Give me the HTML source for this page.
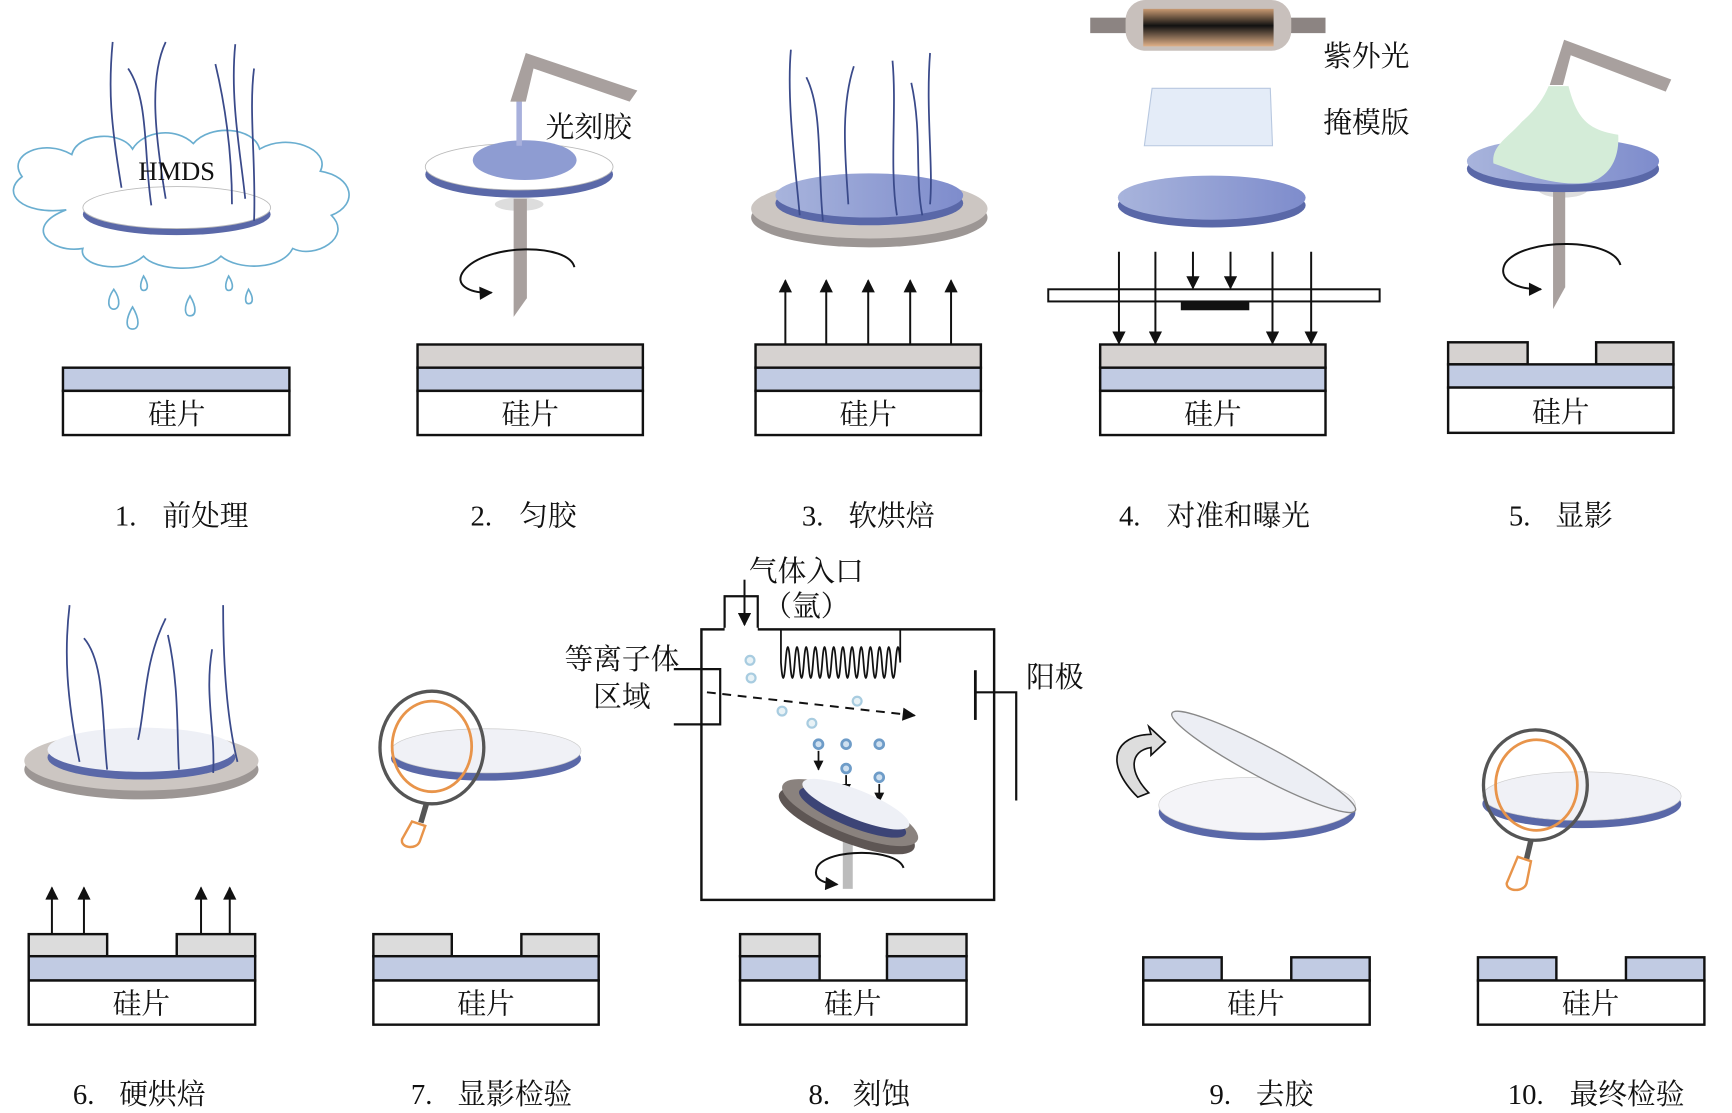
<!DOCTYPE html>
<html><head><meta charset="utf-8"><style>
html,body{margin:0;padding:0;background:#fff;}
svg{display:block}
text{font-family:"Liberation Serif","Noto Serif CJK SC","Noto Sans CJK SC",serif;fill:#111;white-space:pre}
</style></head><body>
<svg width="1732" height="1113" viewBox="0 0 1568 1008" preserveAspectRatio="none" xmlns="http://www.w3.org/2000/svg">
<defs>
<marker id="ah" viewBox="0 0 10 10" refX="9" refY="5" markerWidth="9" markerHeight="10" orient="auto-start-reverse" markerUnits="userSpaceOnUse"><path d="M0,0 L10,5 L0,10 Z" fill="#111"/></marker>
<marker id="ahb" viewBox="0 0 10 10" refX="9" refY="5" markerWidth="14" markerHeight="12" orient="auto-start-reverse" markerUnits="userSpaceOnUse"><path d="M0,0 L10,5 L0,10 Z" fill="#111"/></marker>
<linearGradient id="lamp" x1="0" y1="0" x2="0" y2="1"><stop offset="0" stop-color="#c89a72"/><stop offset="0.45" stop-color="#111"/><stop offset="1" stop-color="#e0b088"/></linearGradient>
<linearGradient id="bw" x1="0" y1="0" x2="1" y2="0"><stop offset="0" stop-color="#a8b4dc"/><stop offset="1" stop-color="#7e8ccc"/></linearGradient>
</defs>

<!-- ===== Stage 1 ===== -->
<path d="M60,190 C20,195 0,175 20,160 C5,140 40,125 65,140 C70,120 110,118 120,135 C130,118 160,115 175,130 C190,112 230,115 235,135 C260,120 300,135 290,155 C320,160 325,185 300,195 C320,215 285,235 265,225 C255,245 215,245 200,232 C185,248 140,245 130,232 C110,250 70,240 75,225 C45,230 20,205 60,190 Z" fill="none" stroke="#6aaed0" stroke-width="1.5"/>
<ellipse cx="160" cy="194" rx="85" ry="19" fill="#5a68a8"/>
<ellipse cx="160" cy="188" rx="85" ry="19" fill="#fff" stroke="#bbb" stroke-width="0.8"/>
<g fill="none" stroke="#3a4a8a" stroke-width="1.6">
<path d="M102,38 C98,80 100,110 110,170"/><path d="M116,62 C135,90 130,140 137,186"/><path d="M150,38 C135,70 140,120 150,180"/><path d="M213,40 C208,90 218,140 222,180"/><path d="M195,58 C205,100 210,140 210,185"/><path d="M230,62 C225,100 232,150 230,200"/>
</g>
<text x="160" y="163" font-size="24" text-anchor="middle">HMDS</text>
<g fill="none" stroke="#6aaed0" stroke-width="1.5">
<path d="M103,262 C96,272 98,280 103,280 C108,280 110,272 103,262Z"/><path d="M130,250 C126,258 127,263 130,263 C134,263 135,258 130,250Z"/><path d="M120,278 C113,290 114,298 120,298 C126,298 127,290 120,278Z"/><path d="M172,268 C166,278 167,286 172,286 C178,286 178,278 172,268Z"/><path d="M207,250 C203,258 204,263 207,263 C211,263 212,258 207,250Z"/><path d="M225,262 C221,270 222,275 225,275 C229,275 230,270 225,262Z"/>
</g>

<!-- stacks -->
<g stroke="#111" stroke-width="2.2">
<rect x="57" y="333" width="205" height="21" fill="#c1cbe3"/><rect x="57" y="354" width="205" height="40" fill="#fff"/>
<rect x="378" y="312" width="204" height="21" fill="#d6d2d0"/><rect x="378" y="333" width="204" height="21" fill="#c1cbe3"/><rect x="378" y="354" width="204" height="40" fill="#fff"/>
<rect x="684" y="312" width="204" height="21" fill="#d6d2d0"/><rect x="684" y="333" width="204" height="21" fill="#c1cbe3"/><rect x="684" y="354" width="204" height="40" fill="#fff"/>
<rect x="996" y="312" width="204" height="21" fill="#d6d2d0"/><rect x="996" y="333" width="204" height="21" fill="#c1cbe3"/><rect x="996" y="354" width="204" height="40" fill="#fff"/>
<rect x="1311" y="310" width="72" height="20" fill="#d6d2d0"/><rect x="1445" y="310" width="70" height="20" fill="#d6d2d0"/><rect x="1311" y="330" width="204" height="21" fill="#c1cbe3"/><rect x="1311" y="351" width="204" height="41" fill="#fff"/>
<rect x="26" y="846" width="71" height="20" fill="#dcdcdc"/><rect x="160" y="846" width="71" height="20" fill="#dcdcdc"/><rect x="26" y="866" width="205" height="22" fill="#c1cbe3"/><rect x="26" y="888" width="205" height="40" fill="#fff"/>
<rect x="338" y="846" width="71" height="20" fill="#dcdcdc"/><rect x="472" y="846" width="70" height="20" fill="#dcdcdc"/><rect x="338" y="866" width="204" height="22" fill="#c1cbe3"/><rect x="338" y="888" width="204" height="40" fill="#fff"/>
<rect x="670" y="846" width="72" height="20" fill="#dcdcdc"/><rect x="803" y="846" width="72" height="20" fill="#dcdcdc"/><rect x="670" y="866" width="72" height="22" fill="#c1cbe3"/><rect x="803" y="866" width="72" height="22" fill="#c1cbe3"/><rect x="670" y="888" width="205" height="40" fill="#fff"/>
<rect x="1035" y="867" width="71" height="21" fill="#c1cbe3"/><rect x="1169" y="867" width="71" height="21" fill="#c1cbe3"/><rect x="1035" y="888" width="205" height="40" fill="#fff"/>
<rect x="1338" y="867" width="71" height="21" fill="#c1cbe3"/><rect x="1472" y="867" width="71" height="21" fill="#c1cbe3"/><rect x="1338" y="888" width="205" height="40" fill="#fff"/>
</g>
<g font-size="26" text-anchor="middle">
<text x="160" y="384">硅片</text><text x="480" y="384">硅片</text><text x="786" y="384">硅片</text><text x="1098" y="384">硅片</text><text x="1413" y="382">硅片</text>
<text x="128" y="918">硅片</text><text x="440" y="918">硅片</text><text x="772" y="918">硅片</text><text x="1137" y="918">硅片</text><text x="1440" y="918">硅片</text>
</g>
<g font-size="26">
<text x="104" y="476">1.</text><text x="147" y="476">前处理</text>
<text x="426" y="476">2.</text><text x="470" y="476">匀胶</text>
<text x="726" y="476">3.</text><text x="768" y="476">软烘焙</text>
<text x="1013" y="476">4.</text><text x="1056" y="476">对准和曝光</text>
<text x="1366" y="476">5.</text><text x="1408" y="476">显影</text>
<text x="66" y="1000">6.</text><text x="108" y="1000">硬烘焙</text>
<text x="372" y="1000">7.</text><text x="414" y="1000">显影检验</text>
<text x="732" y="1000">8.</text><text x="772" y="1000">刻蚀</text>
<text x="1095" y="1000">9.</text><text x="1137" y="1000">去胶</text>
<text x="1365" y="1000">10.</text><text x="1421" y="1000">最终检验</text>
</g>

<!-- ===== Stage 2 ===== -->
<ellipse cx="470" cy="185" rx="22" ry="6" fill="#ddd"/>
<path d="M465,180 L477,180 L477,270 L465,287 Z" fill="#a8a09e"/>
<ellipse cx="470" cy="158" rx="85" ry="21" fill="#5a68a8"/>
<ellipse cx="470" cy="151" rx="85" ry="21" fill="#fff" stroke="#bbb" stroke-width="0.8"/>
<ellipse cx="475" cy="145" rx="47" ry="18" fill="#8e9cd2"/>
<line x1="470" y1="90" x2="470" y2="132" stroke="#a8b0dc" stroke-width="5"/>
<polygon points="462,92 476,92 483,62 570,92 577,82 476,48" fill="#a8a09e"/>
<text x="533" y="124" font-size="26" text-anchor="middle">光刻胶</text>
<path d="M520,242 C515,220 440,220 420,245 C410,258 425,266 445,265" fill="none" stroke="#111" stroke-width="1.8" marker-end="url(#ahb)"/>

<!-- ===== Stage 3 ===== -->
<ellipse cx="787" cy="197" rx="107" ry="27" fill="#9c9694"/>
<ellipse cx="787" cy="189" rx="107" ry="27" fill="#ccc6c2"/>
<ellipse cx="787" cy="184" rx="85" ry="20" fill="#5a68a8"/>
<ellipse cx="787" cy="177" rx="85" ry="20" fill="url(#bw)"/>
<g fill="none" stroke="#3a4a8a" stroke-width="1.6">
<path d="M716,45 C712,90 720,150 724,195"/><path d="M730,70 C745,100 740,150 745,200"/><path d="M773,60 C760,100 766,150 768,185"/><path d="M808,55 C812,100 805,150 812,195"/><path d="M825,75 C835,120 828,160 835,195"/><path d="M842,48 C838,100 845,150 842,185"/>
</g>
<g stroke="#111" stroke-width="1.8" marker-end="url(#ahb)">
<line x1="711" y1="312" x2="711" y2="254"/><line x1="748" y1="312" x2="748" y2="254"/><line x1="786" y1="312" x2="786" y2="254"/><line x1="824" y1="312" x2="824" y2="254"/><line x1="861" y1="312" x2="861" y2="254"/>
</g>

<!-- ===== Stage 4 ===== -->
<rect x="987" y="16" width="213" height="14" fill="#8c8482"/>
<rect x="1019" y="0" width="150" height="46" rx="18" fill="#c8c0bc"/>
<rect x="1035" y="8" width="118" height="34" fill="url(#lamp)"/>
<text x="1237" y="60" font-size="26" text-anchor="middle">紫外光</text>
<text x="1237" y="120" font-size="26" text-anchor="middle">掩模版</text>
<polygon points="1043,80 1150,80 1152,132 1036,132" fill="#e4ecf8" stroke="#b8c8e0" stroke-width="1"/>
<ellipse cx="1097" cy="186" rx="85" ry="20" fill="#5a68a8"/>
<ellipse cx="1097" cy="179" rx="85" ry="20" fill="url(#bw)"/>
<rect x="949" y="262" width="300" height="11" fill="#fff" stroke="#111" stroke-width="1.8"/>
<rect x="1069" y="273" width="62" height="8" fill="#111"/>
<g stroke="#111" stroke-width="1.8" marker-end="url(#ahb)">
<line x1="1013" y1="228" x2="1013" y2="311"/><line x1="1046" y1="228" x2="1046" y2="311"/><line x1="1080" y1="228" x2="1080" y2="261"/><line x1="1114" y1="228" x2="1114" y2="261"/><line x1="1152" y1="228" x2="1152" y2="311"/><line x1="1187" y1="228" x2="1187" y2="311"/>
</g>

<!-- ===== Stage 5 ===== -->
<ellipse cx="1415" cy="172" rx="22" ry="7" fill="#ddd"/>
<path d="M1406,170 L1417,170 L1417,260 L1406,280 Z" fill="#a8a09e"/>
<ellipse cx="1415" cy="153" rx="87" ry="21" fill="#5a68a8"/>
<ellipse cx="1415" cy="146" rx="87" ry="21" fill="url(#bw)"/>
<path d="M1402,78 L1420,78 C1428,110 1440,118 1465,122 C1466,140 1460,158 1440,165 C1410,170 1380,158 1352,148 C1350,132 1365,125 1378,110 C1390,100 1398,88 1402,78 Z" fill="#d4ecd8"/>
<polygon points="1403,77 1415,77 1422,50 1508,83 1513,72 1416,36" fill="#a8a09e"/>
<path d="M1467,240 C1460,215 1380,215 1363,238 C1355,252 1370,262 1395,262" fill="none" stroke="#111" stroke-width="1.8" marker-end="url(#ahb)"/>

<!-- ===== Stage 6 ===== -->
<ellipse cx="128" cy="697" rx="106" ry="27" fill="#9c9694"/>
<ellipse cx="128" cy="689" rx="106" ry="27" fill="#ccc6c2"/>
<ellipse cx="128" cy="686" rx="85" ry="20" fill="#5a68a8"/>
<ellipse cx="128" cy="679" rx="85" ry="20" fill="#eef0f6"/>
<g fill="none" stroke="#3a4a8a" stroke-width="1.6">
<path d="M63,548 C58,590 60,630 72,690"/>
<path d="M76,578 C95,600 92,650 97,697"/><path d="M150,560 C130,600 132,640 125,670"/><path d="M152,575 C162,620 160,660 162,697"/><path d="M192,588 C185,630 195,660 193,700"/><path d="M202,548 C202,600 205,650 215,690"/>
</g>
<g stroke="#111" stroke-width="1.8" marker-end="url(#ahb)">
<line x1="47" y1="846" x2="47" y2="804"/><line x1="76" y1="846" x2="76" y2="804"/><line x1="182" y1="846" x2="182" y2="804"/><line x1="208" y1="846" x2="208" y2="804"/>
</g>

<!-- ===== Stage 7 ===== -->
<ellipse cx="440" cy="687" rx="86" ry="20" fill="#5a68a8"/>
<ellipse cx="440" cy="680" rx="86" ry="20" fill="#f0f1f6" stroke="#ccc" stroke-width="0.6"/>
<ellipse cx="391" cy="677" rx="47" ry="51" fill="none" stroke="#555" stroke-width="3"/>
<ellipse cx="391" cy="676" rx="36" ry="41" fill="none" stroke="#e8944a" stroke-width="2.5"/>
<line x1="386" y1="728" x2="381" y2="745" stroke="#555" stroke-width="5"/>
<path d="M373,744 L385,748 L380,762 C377,770 362,768 364,760 Z" fill="#fff" stroke="#e8944a" stroke-width="2.2"/>

<!-- ===== Stage 8 ===== -->
<path d="M656,570 L656,540 L686,540 L686,570" fill="none" stroke="#111" stroke-width="2"/>
<rect x="635" y="570" width="265" height="245" fill="none" stroke="#111" stroke-width="2.2"/>
<line x1="656" y1="570" x2="686" y2="570" stroke="#fff" stroke-width="3"/>
<line x1="674" y1="525" x2="674" y2="566" stroke="#111" stroke-width="1.8" marker-end="url(#ahb)"/>
<text x="730" y="526" font-size="26" text-anchor="middle">气体入口</text>
<text x="730" y="558" font-size="26" text-anchor="middle">（氩）</text>
<text x="563" y="606" font-size="26" text-anchor="middle">等离子体</text>
<text x="563" y="640" font-size="26" text-anchor="middle">区域</text>
<path d="M610,606 L652,606 L652,656 L610,656" fill="none" stroke="#111" stroke-width="2"/>
<path d="M707,570 L707,600 q2.077,28 4.154,0 t4.154,0 t4.154,0 t4.154,0 t4.154,0 t4.154,0 t4.154,0 t4.154,0 t4.154,0 t4.154,0 t4.154,0 t4.154,0 t4.154,0 t4.154,0 t4.154,0 t4.154,0 t4.154,0 t4.154,0 t4.154,0 t4.154,0 t4.154,0 t4.154,0 t4.154,0 t4.154,0 t4.154,0 t4.154,0 L815,570" fill="none" stroke="#111" stroke-width="1.6"/>
<line x1="640" y1="627" x2="828" y2="648" stroke="#111" stroke-width="1.8" stroke-dasharray="8,6" marker-end="url(#ahb)"/>
<line x1="883" y1="607" x2="883" y2="652" stroke="#111" stroke-width="2.5"/>
<path d="M883,627 L920,627 L920,725" fill="none" stroke="#111" stroke-width="2"/>
<text x="955" y="622" font-size="26" text-anchor="middle">阳极</text>
<g fill="#e8f2f6" stroke="#a8cce0" stroke-width="2">
<circle cx="679" cy="598" r="4"/><circle cx="680" cy="614" r="4"/><circle cx="708" cy="644" r="4"/><circle cx="735" cy="655" r="4"/><circle cx="776" cy="635" r="4"/>
</g>
<g fill="#cfe0f0" stroke="#6e9cc8" stroke-width="2.5">
<circle cx="741" cy="674" r="4"/><circle cx="766" cy="674" r="4"/><circle cx="796" cy="674" r="4"/><circle cx="766" cy="696" r="4"/><circle cx="796" cy="704" r="4"/>
</g>
<g stroke="#111" stroke-width="1.6" marker-end="url(#ah)">
<line x1="741" y1="680" x2="741" y2="697"/><line x1="766" y1="702" x2="766" y2="718"/><line x1="796" y1="710" x2="796" y2="726"/>
</g>
<rect x="763" y="745" width="9" height="60" fill="#bcbcbc"/>
<g transform="rotate(22 770 735)">
<ellipse cx="770" cy="744" rx="66" ry="19" fill="#5e5654"/>
<ellipse cx="770" cy="736" rx="66" ry="19" fill="#8a827e"/>
<ellipse cx="772" cy="735" rx="52" ry="13" fill="#3c4476"/>
<ellipse cx="772" cy="727" rx="52" ry="13" fill="#eef0f6"/>
</g>
<path d="M818,786 C812,768 750,768 740,785 C735,796 745,800 758,801" fill="none" stroke="#111" stroke-width="1.8" marker-end="url(#ahb)"/>

<!-- ===== Stage 9 ===== -->
<ellipse cx="1138" cy="736" rx="89" ry="25" fill="#5a68a8"/>
<ellipse cx="1138" cy="729" rx="89" ry="25" fill="#f4f4f8" stroke="#ccc" stroke-width="0.6"/>
<ellipse cx="1144" cy="690" rx="94" ry="14" transform="rotate(28 1144 690)" fill="#eceef4" stroke="#888" stroke-width="1.2"/>
<path d="M1030,722 C998,690 1010,666 1042,665 L1040,658 L1055,672 L1042,684 L1042,677 C1022,680 1022,700 1040,718 Z" fill="#ddd" stroke="#111" stroke-width="1.5"/>

<!-- ===== Stage 10 ===== -->
<ellipse cx="1432" cy="728" rx="90" ry="22" fill="#5a68a8"/>
<ellipse cx="1432" cy="721" rx="90" ry="22" fill="#f0f1f6" stroke="#ccc" stroke-width="0.6"/>
<ellipse cx="1390" cy="711" rx="47" ry="50" fill="none" stroke="#555" stroke-width="3"/>
<ellipse cx="1391" cy="711" rx="37" ry="41" fill="none" stroke="#e8944a" stroke-width="2.5"/>
<line x1="1386" y1="761" x2="1382" y2="778" stroke="#555" stroke-width="5"/>
<path d="M1374,776 L1386,780 L1382,800 C1380,808 1364,808 1364,800 Z" fill="#fff" stroke="#e8944a" stroke-width="2.2"/>
</svg>
</body></html>
